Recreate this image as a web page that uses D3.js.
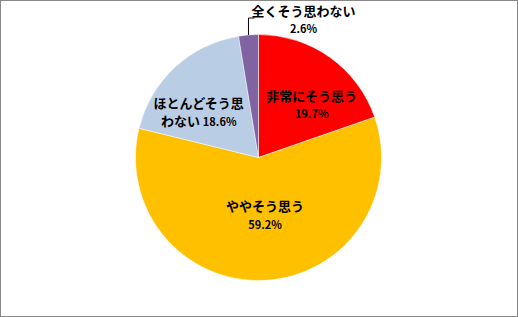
<html>
<head>
<meta charset="utf-8">
<style>
  body { margin: 0; background: white; }
  svg { display: block; }
</style>
<script src="https://cdn.jsdelivr.net/npm/d3@7"></script>
</head>
<body>
<svg id="main"></svg>
<script>
  // answers, clockwise from 12 o'clock
  const categories = ["非常にそう思う", "ややそう思う", "ほとんどそう思わない", "全くそう思わない"]
  const values = [19.7, 59.2, 18.6, 2.6]
  const labelLines = [["非常にそう思う"], ["ややそう思う"], ["ほとんどそう思", "わない"], ["全くそう思わない"]]

  const colors = ["#ff0000", "#ffc000", "#b9cde5", "#8064a2"]
  // nudges from the arc centroid, like Excel puts them
  const nudge = [[9, 10], [3, -18], [-8, 10], [0, 0]]

  const width = 518, height = 317
  const cx = 258.5, cy = 157.5, r = 123
  const font = "'Noto Sans CJK JP', 'Noto Sans', sans-serif"

  const svg = d3.select("#main").attr("width", width).attr("height", height)

  svg.append("rect")
    .attr("x", 0.5).attr("y", 0.5)
    .attr("width", width - 1).attr("height", height - 1)
    .attr("fill", "white").attr("stroke", "#888")

  const data = categories.map((c, i) => ({cat: c, value: values[i], i}))
  const pie = d3.pie().value(d => d.value).sort(null)
  const arcs = pie(data)
  const arc = d3.arc().innerRadius(0).outerRadius(r)
  const labelArc = d3.arc().innerRadius(r * 0.62).outerRadius(r * 0.62)

  const g = svg.append("g").attr("transform", `translate(${cx},${cy})`)

  g.selectAll("path")
    .data(arcs)
    .join("path")
    .attr("d", arc)
    .attr("fill", d => colors[d.data.i])
    .attr("stroke", "white")
    .attr("stroke-width", 0.5)

  const inside = arcs.filter(d => d.data.i < 3)
  const lab = g.selectAll("text.lab")
    .data(inside)
    .join("text")
    .attr("class", "lab")
    .attr("font-family", font)
    .attr("font-weight", "bold")
    .attr("text-anchor", "middle")
    .attr("fill", "black")

  lab.each(function(d) {
    const [x, y] = labelArc.centroid(d)
    const k = d.data.i
    const px = x + nudge[k][0], py = y + nudge[k][1]
    const t = d3.select(this)
    const lines = labelLines[k]
    const pct = d.data.value.toFixed(1) + "%"
    if (lines.length === 1) {
      t.append("tspan").attr("x", px).attr("y", py - 4.5).attr("font-size", 13).text(lines[0])
      t.append("tspan").attr("x", px).attr("y", py + 13).attr("font-size", 11).text(pct)
    } else {
      t.append("tspan").attr("x", px).attr("y", py - 4).attr("font-size", 13).text(lines[0])
      t.append("tspan").attr("x", px).attr("y", py + 14.5).attr("font-size", 13).text(lines[1] + " ")
      t.append("tspan").attr("font-size", 11).text(pct)
    }
  })

  // small slice: label outside with a leader line
  const small = arcs[3]
  const a = small.startAngle + 0.5 * (small.endAngle - small.startAngle)
  const ex = r * Math.sin(a), ey = -r * Math.cos(a)
  const ly = -r - 16.5
  g.append("polyline")
    .attr("points", [[ex, ey], [ex, ly], [ex + 6, ly]].map(p => p.join(",")).join(" "))
    .attr("fill", "none")
    .attr("stroke", "black")
    .attr("stroke-width", 1)

  const st = g.append("text")
    .attr("font-family", font)
    .attr("font-weight", "bold")
    .attr("text-anchor", "middle")
    .attr("fill", "black")
  st.append("tspan").attr("x", ex + 55).attr("y", -r - 18.5).attr("font-size", 13).text(labelLines[3][0])
  st.append("tspan").attr("x", ex + 55).attr("y", -r - 1.5).attr("font-size", 11).text(small.data.value.toFixed(1) + "%")
</script>
</body>
</html>
